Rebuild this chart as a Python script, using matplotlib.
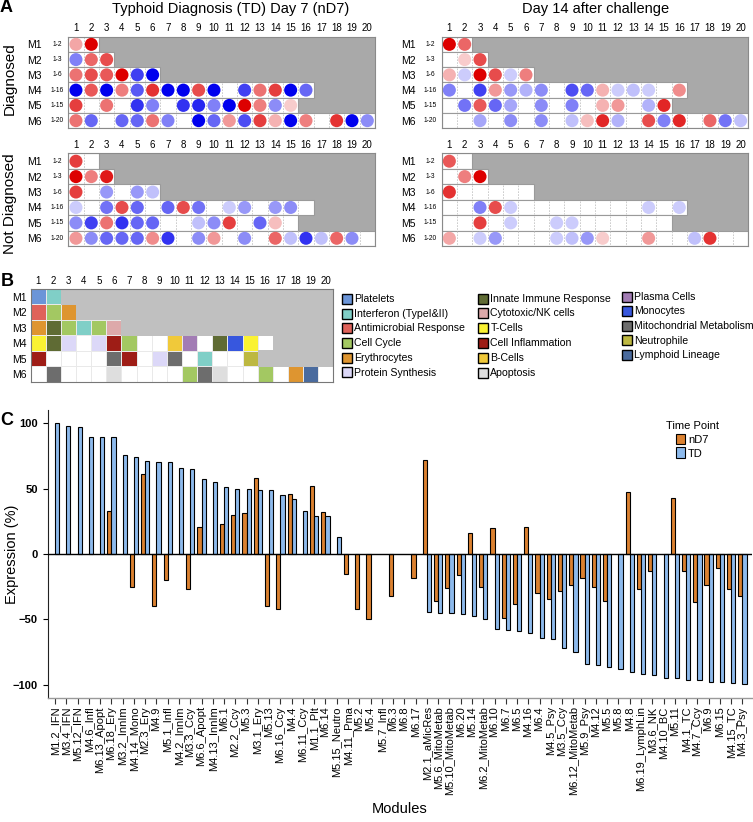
import numpy as np
import matplotlib
matplotlib.use("Agg")
import matplotlib.pyplot as plt
import matplotlib.transforms as mtransforms
from matplotlib.colors import LinearSegmentedColormap, ListedColormap
from matplotlib.patches import Rectangle

plt.rcParams['font.family'] = ['Liberation Sans', 'DejaVu Sans']

# ------------------------------------------
# Data: panel A (module maps, -1 blue .. +1 red, 0 = no dot)
# ------------------------------------------
rows = ['M1', 'M2', 'M3', 'M4', 'M5', 'M6']
row_ranges = ['1-2', '1-3', '1-6', '1-16', '1-15', '1-20']
n_mods = [2, 3, 6, 16, 15, 20]

diag_d7 = [
    [0.35, 1.0],
    [-0.5, 0.6, 0.7],
    [0.55, 0.7, 0.65, 1.0, -0.75, -1.0],
    [-1.0, 0.65, -1.0, 0.5, -0.65, 0.8, -1.0, -1.0, 0.7, -1.0, 0, -0.75, 0.55, 0.75, -1.0, -0.6],
    [0.75, 0, 0.55, 0, -0.8, -0.5, 0, -0.8, -0.85, -0.5, -1.0, 1.0, 0.5, -0.45, 0.2],
    [0.55, -0.6, 0, -0.6, -0.6, 0.55, -0.5, 0, -1.0, -0.6, 0.4, -0.7, 0.75, 0.3, -1.0, 0.5, 0, 0.8, -1.0, -0.45],
]
diag_d14 = [
    [1.0, 0.6],
    [0, 0.2, 0.7],
    [0.3, -0.2, 1.0, 0.7, -0.2, 0.5],
    [-0.5, 0, -0.75, 0.4, -0.4, -0.3, -0.45, 0, -0.7, -0.6, 0.3, -0.2, -0.25, -0.2, 0, 0.45],
    [0, -0.55, 0.65, -0.6, -0.35, 0, -0.45, 0, -0.5, 0, 0.3, 0.4, 0, -0.3, 0.85],
    [0, 0, -0.35, 0, -0.45, 0, -0.45, 0, -0.25, 0.25, 0.85, -0.3, 0, 0.7, -0.5, 0.85, 0, 0.6, -0.55, -0.25],
]
notdiag_d7 = [
    [0.75, 0],
    [1.0, 0.5, 0.9],
    [0.75, 0, -0.4, 0, -0.4, -0.25],
    [-0.2, 0, -0.55, 0.7, -0.6, 0, -0.6, 0.7, -0.55, 0, -0.2, -0.4, 0, -0.4, -0.45, 0],
    [-0.45, -0.75, 0.55, -0.8, -0.6, -0.6, 0, 0, -0.25, -0.45, 0.75, 0, -0.6, 0.25, 0],
    [0.4, -0.45, -0.6, -0.6, -0.6, 0.45, -0.8, 0, -0.45, 0.4, 0, -0.45, 0, 0.6, -0.25, -0.8, -0.25, 0.6, -0.45, 0],
]
notdiag_d14 = [
    [0.65, 0],
    [0, 0.5, 1.0],
    [0.8, 0, 0, 0, 0, 0],
    [0, 0, -0.5, 0.7, -0.2, 0, 0, 0, 0, 0, 0, 0, 0, -0.2, 0, -0.2],
    [0, 0, 0.75, 0, -0.2, 0, 0, -0.2, -0.2, 0, 0, 0, 0, 0, 0],
    [0.35, 0, -0.2, -0.4, 0, 0, 0, -0.2, -0.25, -0.4, 0.2, 0, 0, 0.4, 0, 0, -0.25, 0.8, 0, 0],
]

# ------------------------------------------
# Data: panel B (module functions)
# ------------------------------------------
func_names = ['Platelets', 'Interferon (TypeI&II)', 'Antimicrobial Response', 'Cell Cycle',
              'Erythrocytes', 'Protein Synthesis',
              'Innate Immune Response', 'Cytotoxic/NK cells', 'T-Cells', 'Cell Inflammation',
              'B-Cells', 'Apoptosis',
              'Plasma Cells', 'Monocytes', 'Mitochondrial Metabolism', 'Neutrophile', 'Lymphoid Lineage']
func_colors = ['#6B95D8', '#80CFC7', '#DF625A', '#A3C862', '#DE9530', '#DCD8F8',
               '#5F6B34', '#DDA9AA', '#FAF233', '#9E1D16', '#F0C93A', '#DEDEDE',
               '#A27CB4', '#3757DE', '#6D6D6D', '#BDB841', '#4A6B9E']
func_grid = [
    ['Platelets', 'Interferon (TypeI&II)'],
    ['Antimicrobial Response', 'Cell Cycle', 'Erythrocytes'],
    ['Erythrocytes', 'Innate Immune Response', 'Cell Cycle', 'Interferon (TypeI&II)', 'Cell Cycle',
     'Cytotoxic/NK cells'],
    ['T-Cells', 'Innate Immune Response', 'Protein Synthesis', '', 'Protein Synthesis',
     'Cell Inflammation', 'Cell Cycle', '', '', 'B-Cells', 'Plasma Cells', '',
     'Innate Immune Response', 'Monocytes', 'T-Cells', ''],
    ['Cell Inflammation', '', '', '', '', 'Mitochondrial Metabolism', 'Cell Inflammation', '',
     'Protein Synthesis', 'Mitochondrial Metabolism', '', 'Interferon (TypeI&II)', '', '',
     'Neutrophile'],
    ['', 'Mitochondrial Metabolism', '', '', '', 'Apoptosis', '', '', '', '', 'Cell Cycle',
     'Mitochondrial Metabolism', 'Apoptosis', '', '', 'Cell Cycle', '', 'Erythrocytes',
     'Lymphoid Lineage', ''],
]

# ------------------------------------------
# Data: panel C (expression per module)
# ------------------------------------------
nan = np.nan
modules = ['M1.2_IFN', 'M3.4_IFN', 'M5.12_IFN', 'M4.6_Infl', 'M6.13_Apopt', 'M6.18_Ery',
           'M3.2_InnIm', 'M4.14_Mono', 'M2.3_Ery', 'M4.9', 'M5.1_Infl', 'M4.2_InnIm',
           'M3.3_Ccy', 'M6.6_Apopt', 'M4.13_InnIm', 'M6.1', 'M2.2_Ccy', 'M5.3', 'M3.1_Ery',
           'M5.13', 'M6.16_Ccy', 'M4.4', 'M6.11_Ccy', 'M1.1_Plt', 'M6.14', 'M5.15_Neutro',
           'M4.11_Pma', 'M5.2', 'M5.4', 'M5.7_Infl', 'M6.3', 'M6.8', 'M6.17', 'M2.1_aMicRes',
           'M5.6_MitoMetab', 'M5.10_MitoMetab', 'M6.20', 'M5.14', 'M6.2_MitoMetab', 'M6.10',
           'M6.7', 'M6.5', 'M4.16', 'M6.4', 'M4.5_Psy', 'M3.5_Ccy', 'M6.12_MitoMetab',
           'M5.9_Psy', 'M4.12', 'M5.5', 'M5.8', 'M4.8', 'M6.19_LymphLin', 'M3.6_NK',
           'M4.10_BC', 'M5.11', 'M4.1_TC', 'M4.7_Ccy', 'M6.9', 'M6.15', 'M4.15_TC', 'M4.3_Psy']
td = [100, 98, 97, 89, 89, 89, 76, 74, 71, 70, 70, 66, 65, 57, 55, 51, 50, 50, 49, 49,
      45, 42, 33, 29, 29, 13, nan, nan, nan, nan, nan, nan, nan, -44, -45, -45, -46, -47,
      -50, -57, -58, -59, -60, -64, -65, -71.5, -74.5, -84, -84.5, -86, -87.5, -90.5,
      -91.5, -92.5, -94.5, -94.5, -96.5, -96.5, -97.5, -97.5, -98.5, -99.5]
nd7 = [nan, nan, nan, nan, nan, 33, nan, -25, 61, -40, -20, nan, -27, 21, nan, 23, 30, 31,
       58, -40, -42, 46, nan, 52, 32, nan, -15, -42, -50, nan, -32, nan, -18, 72, -36, -26,
       -16, 16, -25, 20, -49, -38, 21, -30, -34, -28, -24, -18, -25, -36, nan, 47, -27,
       -13, nan, 43, -13, -37, -24, -11, -27, -32]

# ------------------------------------------
# Figure set-up (pixel helpers)
# ------------------------------------------
W, H = 753, 822
fig = plt.figure(figsize=(W / 100, H / 100), dpi=100)


def px_axes(x0, y0, x1, y1):
    return fig.add_axes([x0 / W, 1 - y1 / H, (x1 - x0) / W, (y1 - y0) / H])


ov = fig.add_axes([0, 0, 1, 1])
ov.set_xlim(0, W)
ov.set_ylim(H, 0)
ov.axis('off')

dot_cmap = LinearSegmentedColormap.from_list(
    'bwr_dots', [(0, '#0000EE'), (0.5, '#FFFFFF'), (1, '#DD0000')])


# ------------------------------------------
# Panel A
# ------------------------------------------
def draw_dots(box, values):
    ax = px_axes(*box)
    ax.set_xlim(0, 20)
    ax.set_ylim(6, 0)
    ax.set_facecolor('#A9A9A9')
    for r, n in enumerate(n_mods):
        ax.add_patch(Rectangle((0, r), n, 1, facecolor='white', edgecolor='#9a9a9a',
                               lw=0.8, zorder=1))
        for c in range(1, n):
            ax.plot([c, c], [r + 0.05, r + 0.95], color='#c4c4c4', lw=0.6,
                    ls=(0, (2, 1.5)), zorder=2)
    xs, ys, cs = [], [], []
    for r, row in enumerate(values):
        for c, v in enumerate(row):
            if v != 0:
                xs.append(c + 0.5)
                ys.append(r + 0.5)
                cs.append(v)
    ax.scatter(xs, ys, c=cs, cmap=dot_cmap, vmin=-1, vmax=1, s=88, linewidths=0, zorder=3)
    ax.set_xticks(np.arange(20) + 0.5, [str(i) for i in range(1, 21)])
    ax.xaxis.tick_top()
    ax.tick_params(axis='x', length=0, pad=2.5, labelsize=7)
    ax.set_yticks(np.arange(6) + 0.5, rows)
    ax.tick_params(axis='y', length=0, pad=19, labelsize=7.5)
    trans = mtransforms.blended_transform_factory(ax.transAxes, ax.transData)
    for r, rng in enumerate(row_ranges):
        ax.text(-0.037, r + 0.5, rng, transform=trans, fontsize=4.8, ha='center', va='center')
    for sp in ax.spines.values():
        sp.set_color('#8a8a8a')
        sp.set_linewidth(0.8)
    return ax


draw_dots((68.3, 36.7, 375, 128.3), diag_d7)
draw_dots((441.7, 36.7, 748.3, 128.3), diag_d14)
draw_dots((68.3, 153.5, 375, 246), notdiag_d7)
draw_dots((441.7, 153.5, 748.3, 246), notdiag_d14)

ov.text(6, 8, 'A', fontsize=13, fontweight='bold', ha='center', va='center')
ov.text(231, 9, 'Typhoid Diagnosis (TD) Day 7 (nD7)', fontsize=10.5, ha='center', va='center')
ov.text(596, 9, 'Day 14 after challenge', fontsize=10.5, ha='center', va='center')
ov.text(10, 79, 'Diagnosed', fontsize=11, rotation=90, ha='center', va='center')
ov.text(10, 204, 'Not Diagnosed', fontsize=11, rotation=90, ha='center', va='center')

# ------------------------------------------
# Panel B
# ------------------------------------------
axb = px_axes(30.7, 289, 333.3, 381.7)
axb.set_xlim(0, 20)
axb.set_ylim(6, 0)
axb.set_facecolor('#C0C0C0')
cell_colors = func_colors + ['#FFFFFF']
idx = np.full((6, 20), np.nan)
for r, row in enumerate(func_grid):
    for c, name in enumerate(row):
        idx[r, c] = func_names.index(name) if name else len(func_names)
axb.pcolormesh(np.arange(21), np.arange(7), np.ma.masked_invalid(idx),
               cmap=ListedColormap(cell_colors), vmin=-0.5, vmax=len(cell_colors) - 0.5,
               edgecolors='#e9e9e9', linewidth=0.6)
# plain grey where a row has no more modules
for r, n in enumerate(n_mods):
    if n < 20:
        axb.add_patch(Rectangle((n, r - 0.02), 20 - n, 1.04, facecolor='#C0C0C0',
                                edgecolor='none', zorder=3))
axb.set_xticks(np.arange(20) + 0.5, [str(i) for i in range(1, 21)])
axb.xaxis.tick_top()
axb.tick_params(axis='x', length=0, pad=2.5, labelsize=7)
axb.set_yticks(np.arange(6) + 0.5, rows)
axb.tick_params(axis='y', length=0, pad=3, labelsize=7.5)
for sp in axb.spines.values():
    sp.set_color('#777777')
    sp.set_linewidth(0.8)
    sp.set_zorder(4)
ov.text(7, 281, 'B', fontsize=13, fontweight='bold', ha='center', va='center')

# legend of module functions, three columns
leg_cols = [(341.7, 299, 14.7), (478.3, 298.5, 14.85), (621.7, 296.7, 14.6)]
for k, name in enumerate(func_names):
    col = 0 if k < 6 else (1 if k < 12 else 2)
    i = k - 6 * col
    x0, y0, dy = leg_cols[col]
    yc = y0 + i * dy
    ov.add_patch(Rectangle((x0, yc - 5), 10, 10, facecolor=func_colors[k],
                           edgecolor='black', lw=1.0))
    ov.text(x0 + 12, yc, name, fontsize=7.6, ha='left', va='center')

# ------------------------------------------
# Panel C
# ------------------------------------------
axc = px_axes(47.7, 410, 752, 698)
x = np.arange(1, len(modules) + 1)
w = 0.37
orange, blue = '#DB8130', '#8DBAEC'
b_nd7 = axc.bar(x - w / 2, nd7, width=w, color=orange, edgecolor='black', lw=0.8, label='nD7')
b_td = axc.bar(x + w / 2, td, width=w, color=blue, edgecolor='black', lw=0.8, label='TD')
axc.axhline(0, color='black', lw=1.0, zorder=3)
axc.set_xlim(0.35, 62.85)
axc.set_ylim(-110, 110)
axc.set_yticks([100, 50, 0, -50, -100])
axc.tick_params(axis='y', length=3.5, width=0.8, labelsize=8)
for lab in axc.get_yticklabels():
    lab.set_fontweight('bold')
axc.set_xticks(x, modules, rotation=90)
axc.tick_params(axis='x', length=4, width=0.8, pad=2, labelsize=8, color='#333333')
axc.spines['top'].set_visible(False)
axc.spines['right'].set_visible(False)
axc.spines['left'].set_color('#222222')
axc.spines['bottom'].set_color('#9a9a9a')
axc.spines['bottom'].set_linewidth(1.0)
axc.set_ylabel('Expression (%)', fontsize=10.5)
axc.yaxis.set_label_coords(-0.041, 0.5)
axc.set_xlabel('Modules', fontsize=10.5)
axc.xaxis.set_label_coords(0.5, -0.36)
leg = axc.legend(handles=[b_nd7, b_td], title='Time Point', frameon=False, fontsize=8,
                 title_fontsize=8, loc='upper left', bbox_to_anchor=(658 / W, 1 - 413 / H),
                 bbox_transform=fig.transFigure, handlelength=0.8, handleheight=1.1,
                 handletextpad=0.25, labelspacing=0.25, borderpad=0.2)
ov.text(6.5, 420, 'C', fontsize=13, fontweight='bold', ha='center', va='center')

fig.savefig('out.png', dpi=100)
